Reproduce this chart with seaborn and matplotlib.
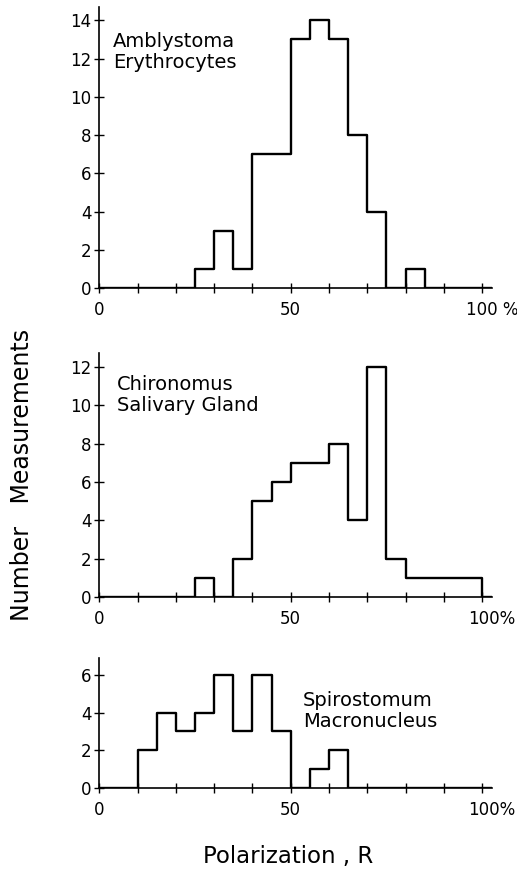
import numpy as np
import pandas as pd
import matplotlib
matplotlib.use("Agg")
import matplotlib.pyplot as plt
import matplotlib.transforms as mtransforms
import seaborn as sns

# ---- data (counts per 5 % bin, bins start at 0,5,...,95) ----
bin_left = list(range(0, 100, 5))
amblystoma = [0, 0, 0, 0, 0, 1, 3, 1, 7, 7, 13, 14, 13, 8, 4, 0, 1, 0, 0, 0]
chironomus = [0, 0, 0, 0, 0, 1, 0, 2, 5, 6, 7, 7, 8, 4, 12, 2, 1, 1, 1, 1]
spirostomum = [0, 0, 2, 4, 3, 4, 6, 3, 6, 3, 0, 1, 2, 0, 0, 0, 0, 0, 0, 0]

panel_names = ["Amblystoma\nErythrocytes", "Chironomus\nSalivary Gland", "Spirostomum\nMacronucleus"]
yticks_list = [[0, 2, 4, 6, 8, 10, 12, 14], [0, 2, 4, 6, 8, 10, 12], [0, 2, 4, 6]]
xtick_vals = list(range(0, 101, 10))
xtick_labels_list = [
    ["0", "", "", "", "", "50", "", "", "", "", "100 %"],
    ["0", "", "", "", "", "50", "", "", "", "", "100%"],
    ["0", "", "", "", "", "50", "", "", "", "", "100%"],
]
ylabel = "Number   Measurements"
xlabel = "Polarization , R"

sns.set_style("ticks")
plt.rcParams["font.family"] = ["DejaVu Sans"]
for k in ["text.color", "axes.labelcolor", "xtick.color", "ytick.color", "axes.edgecolor"]:
    plt.rcParams[k] = "black"

fig = plt.figure(figsize=(5.17, 8.71), dpi=100)
W, H = 517.0, 871.0

rects = [(99.3, 288, 7), (99.3, 597, 353), (99.3, 788, 658)]
ytops = [14.7, 12.73, 6.9]
text_pos = [(3.6, 13.4), (4.6, 11.6), (53.2, 5.15)]

series = [amblystoma, chironomus, spirostomum]
edges = [float(e) for e in range(0, 110, 5)]

for i, counts in enumerate(series):
    left, bot, top = rects[i]
    right = 491.7
    ax = fig.add_axes([left / W, (H - bot) / H, (right - left) / W, (bot - top) / H])
    df = pd.DataFrame({"x": [b + 2.5 for b in bin_left], "w": [float(c) for c in counts]})
    sns.histplot(data=df, x="x", weights="w", bins=edges, element="step",
                 fill=False, color="black", linewidth=1.7, ax=ax)
    ax.set_xlim(0, 102.5)
    ax.set_ylim(0, ytops[i])
    sns.despine(ax=ax)
    for s in ["left", "bottom"]:
        ax.spines[s].set_linewidth(1.2)
    ax.set_xticks(xtick_vals)
    ax.set_xticklabels(xtick_labels_list[i])
    ax.set_yticks(yticks_list[i])
    ax.set_yticklabels([str(v) for v in yticks_list[i]])
    ax.tick_params(axis="both", direction="inout", length=7, width=1.0, labelsize=12)
    ax.tick_params(axis="x", pad=6)
    ax.tick_params(axis="y", pad=2)
    ax.set_xlabel("")
    ax.set_ylabel("")
    lab = ax.get_xticklabels()[-1]
    lab.set_transform(lab.get_transform() + mtransforms.ScaledTranslation(0.1, 0, fig.dpi_scale_trans))
    tx, ty = text_pos[i]
    ax.text(tx, ty, panel_names[i], ha="left", va="top", fontsize=14, linespacing=1.15)

fig.text(22 / W, 1 - 475 / H, ylabel, rotation=90, ha="center", va="center", fontsize=17)
fig.text(288 / W, 1 - 856 / H, xlabel, ha="center", va="center", fontsize=16.5)

fig.savefig("out.png", dpi=100)
